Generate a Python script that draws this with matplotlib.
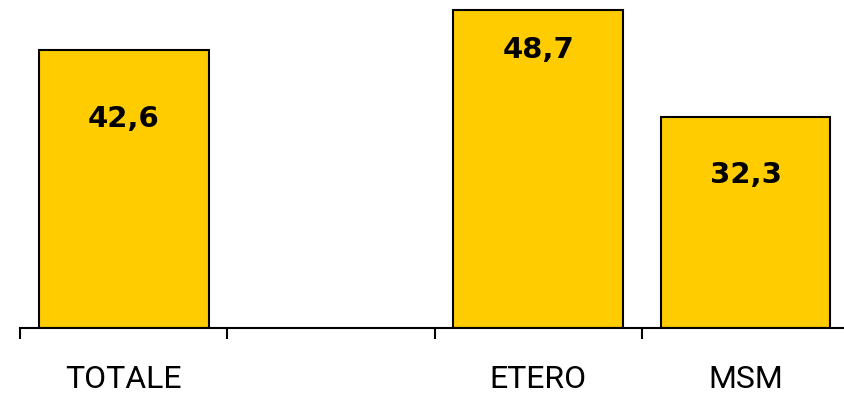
import matplotlib.pyplot as plt

categories = ["TOTALE", "", "ETERO", "MSM"]
values = [42.6, None, 48.7, 32.3]
value_labels = ["42,6", "", "48,7", "32,3"]
# how far below each bar top the value text sits (points)
label_drop = [50, 0, 29, 42]

fig = plt.figure(figsize=(8.45, 3.95), dpi=100)
ax = fig.add_axes([20 / 845, 67 / 395, 825 / 845, 328 / 395])

for i, v in enumerate(values):
    if v is None:
        continue
    ax.bar(i, v, width=0.82, color="#FFCC00", edgecolor="black", linewidth=1.5, zorder=2)
    ax.annotate(value_labels[i], xy=(i, v), xytext=(0, -label_drop[i]),
                textcoords="offset points", ha="center", va="center",
                fontsize=21, fontweight="heavy", family="DejaVu Sans", zorder=3)

ax.set_xlim(-0.5, 3.48)
ax.set_ylim(0, 50.2)

for side in ["top", "right", "left"]:
    ax.spines[side].set_visible(False)
ax.spines["bottom"].set_linewidth(1.5)
ax.set_yticks([])

ax.set_xticks(range(len(categories)))
ax.set_xticklabels(categories, family="Roboto", fontsize=23)
ax.tick_params(axis="x", which="major", length=0, pad=27)
ax.set_xticks([-0.5, 0.5, 1.5, 2.5], minor=True)
ax.tick_params(axis="x", which="minor", length=8, width=1.5, direction="out")

fig.savefig("out.png", dpi=100)
